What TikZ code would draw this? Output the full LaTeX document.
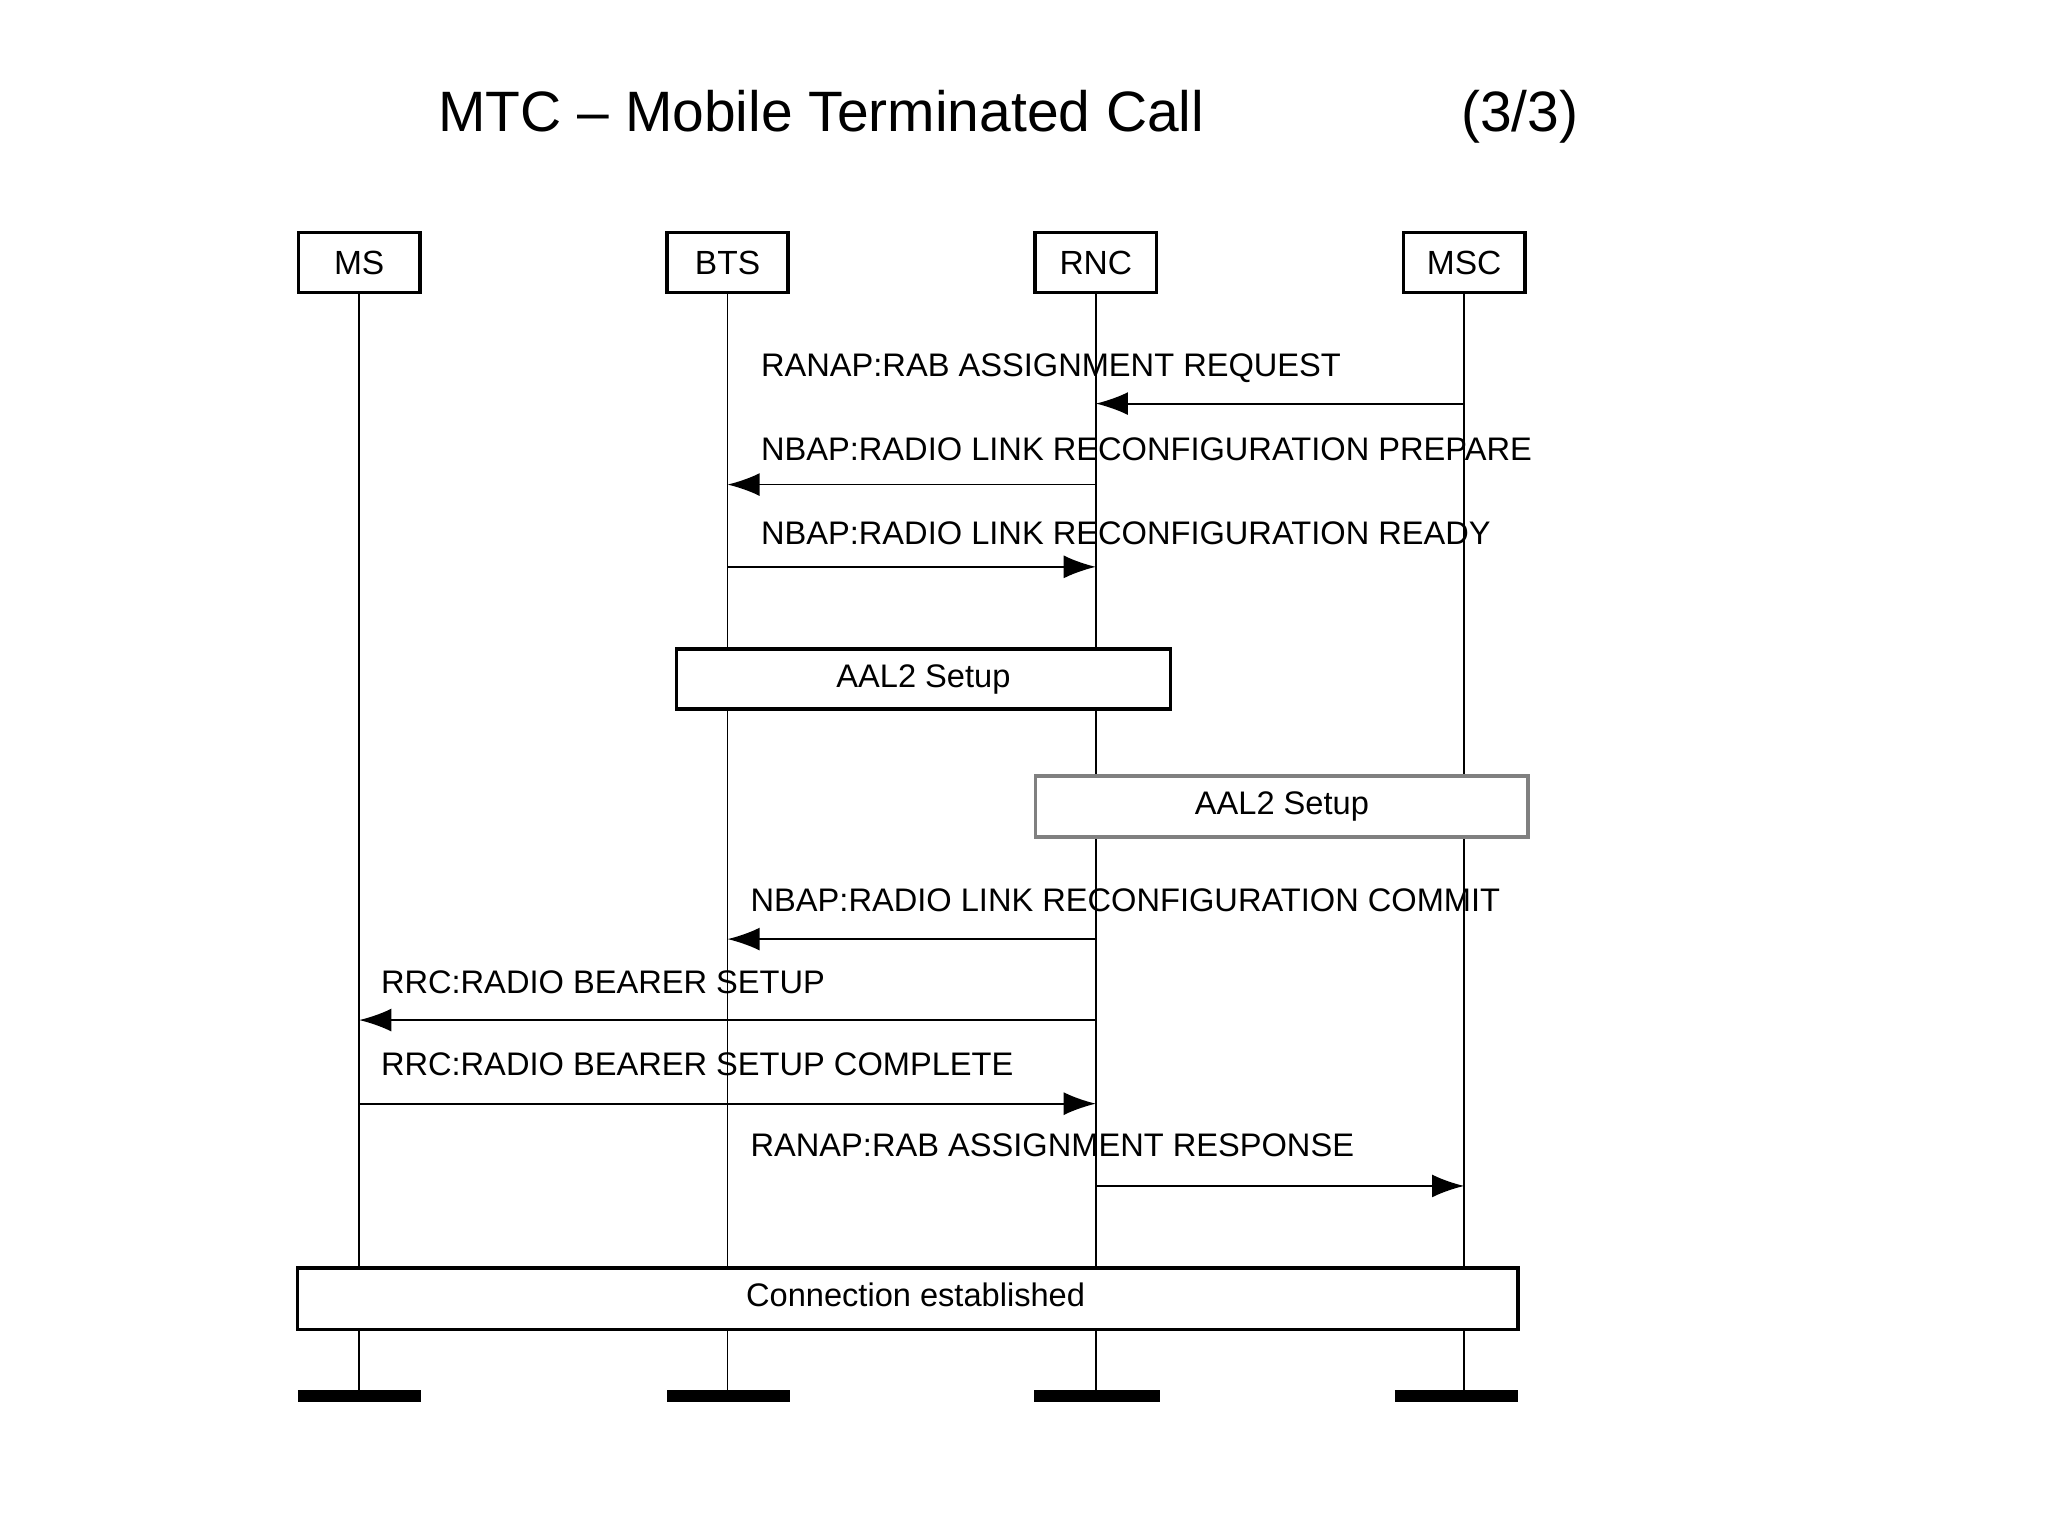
\documentclass[tikz,border=0pt]{standalone}
\usepackage{fontspec}
\setmainfont{Liberation Sans}
\usetikzlibrary{arrows.meta}
\begin{document}
\begin{tikzpicture}[x=0.01cm,y=-0.01cm,
  hdr/.style={draw,thick,minimum width=0.93cm,minimum height=0.46cm,inner sep=0pt,font=\fontsize{7.3}{9}\selectfont,fill=white},
  lbl/.style={anchor=west,inner sep=0pt,font=\fontsize{7.1}{9}\selectfont},
  msg/.style={thin,-{Latex[length=7pt,width=5pt]}},
  bx/.style={draw,thick,fill=white,inner sep=0pt,font=\fontsize{7.1}{9}\selectfont},
  bar/.style={line width=0.09cm}]
\useasboundingbox (0,0) rectangle (1568,1176);
\node[font=\fontsize{12.4}{15}\selectfont,anchor=base west,inner sep=0pt] (title) at (335,101) {MTC -- Mobile Terminated Call};
\node[font=\fontsize{12.4}{15}\selectfont,anchor=base west,inner sep=0pt] (part) at (1118,101) {(3/3)};
% lifelines
\foreach \n/\x in {ms/275,bts/557,rnc/839,msc/1121}{
  \coordinate (\n t) at (\x,224);
  \coordinate (\n b) at (\x,1069);
  \draw[thin] (\n t) -- (\n b);
}
\node[hdr] (ms) at (275,201) {MS};
\node[hdr] (bts) at (557,201) {BTS};
\node[hdr] (rnc) at (839,201) {RNC};
\node[hdr] (msc) at (1121,201) {MSC};
% bars
\draw[bar] (228,1069) -- (322,1069);
\draw[bar] (511,1069) -- (605,1069);
\draw[bar] (792,1069) -- (888,1069);
\draw[bar] (1068,1069) -- (1162,1069);
% messages
\coordinate (a1) at (1121,309); \coordinate (b1) at (839,309);
\draw[msg] (a1) -- (b1);
\node[lbl] (l1) at (582,282) {RANAP:RAB ASSIGNMENT REQUEST};
\coordinate (a2) at (839,371); \coordinate (b2) at (557,371);
\draw[msg] (a2) -- (b2);
\node[lbl] (l2) at (582,344) {NBAP:RADIO LINK RECONFIGURATION PREPARE};
\coordinate (a3) at (557,434); \coordinate (b3) at (839,434);
\draw[msg] (a3) -- (b3);
\node[lbl] (l3) at (582,408) {NBAP:RADIO LINK RECONFIGURATION READY};
\node[bx,minimum width=3.78cm,minimum height=0.46cm] (aal1) at (707,520) {AAL2 Setup};
\node[bx,draw=gray,minimum width=3.77cm,minimum height=0.47cm] (aal2) at (981.5,617.5) {AAL2 Setup};
\coordinate (a4) at (839,719); \coordinate (b4) at (557,719);
\draw[msg] (a4) -- (b4);
\node[lbl] (l4) at (574,689) {NBAP:RADIO LINK RECONFIGURATION COMMIT};
\coordinate (a5) at (839,781); \coordinate (b5) at (275,781);
\draw[msg] (a5) -- (b5);
\node[lbl] (l5) at (291,752) {RRC:RADIO BEARER SETUP};
\coordinate (a6) at (275,845); \coordinate (b6) at (839,845);
\draw[msg] (a6) -- (b6);
\node[lbl] (l6) at (291,815) {RRC:RADIO BEARER SETUP COMPLETE};
\coordinate (a7) at (839,908); \coordinate (b7) at (1121,908);
\draw[msg] (a7) -- (b7);
\node[lbl] (l7) at (574,877) {RANAP:RAB ASSIGNMENT RESPONSE};
\node[bx,minimum width=9.34cm,minimum height=0.47cm] (conn) at (695,994.5) {};
\node[font=\fontsize{7.1}{9}\selectfont] (connt) at (701,991) {Connection established};
\end{tikzpicture}
\end{document}
